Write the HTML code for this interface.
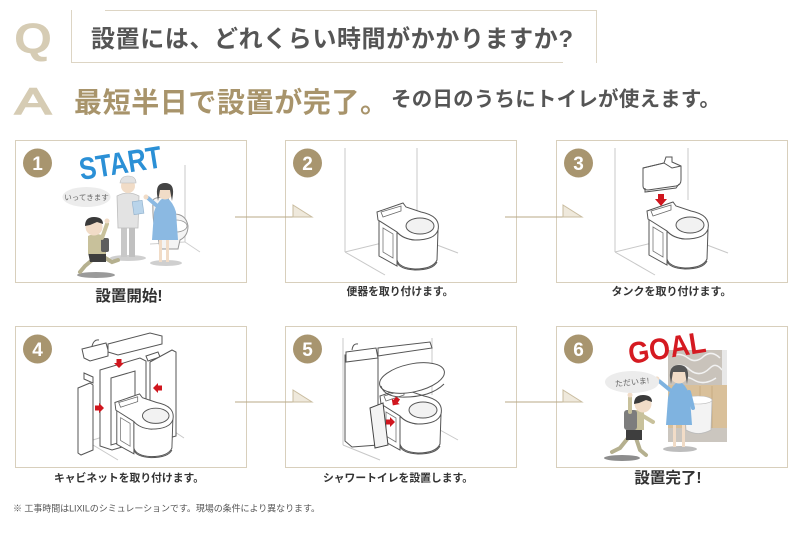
<!DOCTYPE html>
<html><head><meta charset="utf-8"><style>
html,body{margin:0;padding:0;background:#fff;}
body{width:798px;height:538px;overflow:hidden;}
svg{display:block;}
.jp{font-family:"Liberation Sans","Noto Sans CJK JP",sans-serif;}
</style></head><body>
<svg width="798" height="538" viewBox="0 0 798 538" xmlns="http://www.w3.org/2000/svg">
<defs>
  <g id="toilet">
    <path d="M4 18 L4 54 L22 64 L22 30 Z" fill="#fff" stroke="#555" stroke-width="1"/>
    <path d="M8 26 L8 50 L18 56 L18 32 Z" fill="none" stroke="#777" stroke-width="0.8"/>
    <path d="M22 30 L22 58 Q24 66 40 67 Q58 67 62 58 L63 28 Q55 38 40 38 Q28 37 22 30 Z" fill="#fff" stroke="#555" stroke-width="1"/>
    <path d="M22 60 Q24 67 40 68 Q58 68 62 60" fill="none" stroke="#555" stroke-width="1"/>
    <path d="M2 10 L28 1 L31 5 L46 10 Q66 14 63 28 Q60 38 40 38 Q28 37 22 30 L3 18 Z" fill="#fff" stroke="#555" stroke-width="1"/>
    <path d="M6 10 L26 4 L26 9 L8 15 Z" fill="none" stroke="#666" stroke-width="0.8"/>
    <ellipse cx="45" cy="24" rx="14" ry="8" fill="#f2f2f2" stroke="#555" stroke-width="1"/>
  </g>
  <g id="arrowR">
    <path d="M0 -2.5 L4 -2.5 L4 -5 L9 0 L4 5 L4 2.5 L0 2.5 Z" fill="#d0161e"/>
  </g>
</defs>

<!-- Header -->
<text x="14" y="53" font-family="Liberation Sans, sans-serif" font-weight="bold" font-size="43" fill="#d6ccb4" textLength="38" lengthAdjust="spacingAndGlyphs">Q</text>
<line x1="105" y1="10.5" x2="597" y2="10.5" stroke="#ddd5c4" stroke-width="1"/>
<line x1="596.5" y1="10" x2="596.5" y2="63" stroke="#ddd5c4" stroke-width="1"/>
<line x1="71" y1="62.5" x2="563" y2="62.5" stroke="#ddd5c4" stroke-width="1"/>
<line x1="71.5" y1="10" x2="71.5" y2="63" stroke="#ddd5c4" stroke-width="1"/>
<text x="91" y="47" class="jp" font-weight="bold" font-size="24" fill="#555" textLength="482" lengthAdjust="spacing">設置には、どれくらい時間がかかりますか?</text>

<text x="15" y="114" font-family="Liberation Sans, sans-serif" font-size="37" fill="#d6ccb4" stroke="#d6ccb4" stroke-width="1.6" textLength="36" lengthAdjust="spacingAndGlyphs">A</text>
<text x="74" y="112" class="jp" font-weight="bold" font-size="28" fill="#a8946b" textLength="314" lengthAdjust="spacing">最短半日で設置が完了。</text>
<text x="391" y="106" class="jp" font-weight="bold" font-size="20.5" fill="#555" textLength="329" lengthAdjust="spacing">その日のうちにトイレが使えます。</text>

<!-- Panels -->
<g fill="none" stroke="#d8cfbc" stroke-width="1">
  <rect x="15.5" y="140.5" width="231" height="142"/>
  <rect x="285.5" y="140.5" width="231" height="142"/>
  <rect x="556.5" y="140.5" width="231" height="142"/>
  <rect x="15.5" y="326.5" width="231" height="141"/>
  <rect x="285.5" y="326.5" width="231" height="141"/>
  <rect x="556.5" y="326.5" width="231" height="141"/>
</g>

<!-- Connectors -->
<g stroke="#b8a987" stroke-width="1">
  <line x1="235" y1="217" x2="293" y2="217"/>
  <line x1="505" y1="217" x2="563" y2="217"/>
  <line x1="235" y1="402" x2="293" y2="402"/>
  <line x1="505" y1="402" x2="563" y2="402"/>
</g>
<g fill="#efe9dc" stroke="#c9bc9f" stroke-width="1">
  <path d="M293 205 L293 217 L312 217 Z"/>
  <path d="M563 205 L563 217 L582 217 Z"/>
  <path d="M293 390 L293 402 L312 402 Z"/>
  <path d="M563 390 L563 402 L582 402 Z"/>
</g>

<!-- Number circles -->
<g fill="#a8956f">
  <circle cx="37.5" cy="163" r="14.5"/>
  <circle cx="307.5" cy="163" r="14.5"/>
  <circle cx="578.5" cy="163" r="14.5"/>
  <circle cx="37.5" cy="349" r="14.5"/>
  <circle cx="307.5" cy="349" r="14.5"/>
  <circle cx="578.5" cy="349" r="14.5"/>
</g>
<g font-family="Liberation Sans, sans-serif" font-weight="bold" font-size="19" fill="#fff" text-anchor="middle">
  <text x="37.5" y="170">1</text>
  <text x="307.5" y="170">2</text>
  <text x="578.5" y="170">3</text>
  <text x="37.5" y="356">4</text>
  <text x="307.5" y="356">5</text>
  <text x="578.5" y="356">6</text>
</g>

<!-- Panel 1 illustration -->
<g>
  <line x1="185" y1="165" x2="185" y2="242" stroke="#c8c8c8" stroke-width="1"/>
  <line x1="150" y1="244" x2="185" y2="242" stroke="#cfcfcf" stroke-width="1"/>
  <line x1="185" y1="242" x2="200" y2="252" stroke="#cfcfcf" stroke-width="1"/>
  <path d="M153 200 Q156 196 168 198 L174 214 Q186 214 188 226 Q188 236 180 240 L178 249 L160 249 L158 236 Q152 226 153 200 Z" fill="#f4f4f4" stroke="#999" stroke-width="1"/>
  <ellipse cx="176" cy="226" rx="11" ry="6" fill="#fff" stroke="#999" stroke-width="0.8"/>
  <ellipse cx="128" cy="258" rx="18" ry="3" fill="#cfcfcf"/>
  <ellipse cx="166" cy="263" rx="16" ry="3" fill="#cfcfcf"/>
  <ellipse cx="96" cy="275" rx="19" ry="3" fill="#9a9a9a"/>
  <rect x="121" y="224" width="6" height="33" fill="#c8c8c8"/>
  <rect x="129" y="224" width="6" height="33" fill="#c0c0c0"/>
  <path d="M117 196 Q128 190 139 196 L138 228 L118 228 Z" fill="#e3e3e3" stroke="#bdbdbd" stroke-width="0.8"/>
  <circle cx="128" cy="186" r="7" fill="#f1dcc7"/>
  <path d="M120 183 Q121 176 128 176 Q136 176 136 183 Z" fill="#e2e2e2" stroke="#bbb" stroke-width="0.6"/>
  <rect x="133" y="201" width="10" height="13" fill="#b9d4ea" stroke="#8fb0cc" stroke-width="0.6" transform="rotate(-8 138 207)"/>
  <path d="M163 198 Q157 202 154 212 L152 240 L178 240 L176 212 Q173 202 167 198 Z" fill="#8bb9e2"/>
  <path d="M156 205 L148 198" stroke="#8bb9e2" stroke-width="4" stroke-linecap="round"/>
  <circle cx="146" cy="197" r="2.5" fill="#f1dcc7"/>
  <rect x="159" y="240" width="3" height="22" fill="#f1dcc7"/>
  <rect x="166" y="240" width="3" height="22" fill="#f1dcc7"/>
  <circle cx="165" cy="192" r="7.5" fill="#f1dcc7"/>
  <path d="M157 194 Q156 183 165 183 Q174 183 173 194 L172 201 L170 190 L160 190 L158 201 Z" fill="#444"/>
  <path d="M97 256 L85 266 L80 272" stroke="#b5b08f" stroke-width="4" fill="none" stroke-linecap="round"/>
  <path d="M102 256 L112 262 L118 260" stroke="#b5b08f" stroke-width="4" fill="none" stroke-linecap="round"/>
  <path d="M88 252 L106 252 L106 262 L90 262 Z" fill="#3e3e3e"/>
  <path d="M88 236 Q96 232 104 236 L106 254 L88 254 Z" fill="#c8c19b"/>
  <rect x="101" y="238" width="8" height="14" rx="2" fill="#5e5e5e"/>
  <path d="M102 238 L107 224" stroke="#c8c19b" stroke-width="4" stroke-linecap="round"/>
  <circle cx="107" cy="221" r="2.5" fill="#f1dcc7"/>
  <circle cx="94" cy="227" r="8.5" fill="#f1dcc7"/>
  <path d="M85 226 Q85 217 94 217 Q103 217 103 224 L97 222 L90 225 Z" fill="#3a3a3a"/>
  <ellipse cx="86.5" cy="197" rx="24" ry="10" fill="#ececec"/>
  <text x="86.5" y="200" text-anchor="middle" class="jp" font-size="7.5" fill="#666">いってきます</text>
  <text x="81" y="180" font-family="Liberation Sans, sans-serif" font-weight="bold" font-size="31" fill="#2b90d6" transform="rotate(-9 81 180)" textLength="83" lengthAdjust="spacingAndGlyphs">START</text>
</g>

<!-- Panel 2 illustration -->
<g stroke="#c8c8c8" stroke-width="1" fill="none">
  <line x1="345" y1="148" x2="345" y2="252"/>
  <line x1="417" y1="148" x2="417" y2="213"/>
  <line x1="345" y1="252" x2="382" y2="243"/>
  <line x1="345" y1="252" x2="385" y2="275"/>
  <line x1="437" y1="245" x2="458" y2="253"/>
</g>
<use href="#toilet" x="375" y="202"/>

<!-- Panel 3 illustration -->
<g stroke="#c8c8c8" stroke-width="1" fill="none">
  <line x1="615" y1="148" x2="615" y2="252"/>
  <line x1="688" y1="148" x2="688" y2="200"/>
  <line x1="615" y1="252" x2="652" y2="243"/>
  <line x1="615" y1="252" x2="655" y2="275"/>
  <line x1="707" y1="245" x2="728" y2="253"/>
</g>
<use href="#toilet" x="645" y="201"/>
<g stroke="#555" stroke-width="1" fill="#fff">
  <path d="M643 168 L643 186 Q643 190 648 190 L676 186 Q681 185 681 180 L681 166 L672 162 L672 157 L666 157 L664 163 Z"/>
  <path d="M643 168 L664 163 L672 168 L681 166" fill="none"/>
  <path d="M645 188 L645 192 L676 188 L679 184" fill="none"/>
</g>
<path d="M658 194 L664 194 L664 199 L667 199 L661 206 L655 199 L658 199 Z" fill="#d0161e"/>

<!-- Panel 4 illustration -->
<g stroke="#c8c8c8" stroke-width="1" fill="none">
  <line x1="93" y1="440" x2="118" y2="432"/>
  <line x1="93" y1="445" x2="118" y2="460"/>
  <line x1="172" y1="430" x2="184" y2="438"/>
</g>
<g stroke="#555" stroke-width="1" fill="#fff">
  <path d="M82 349 L106 343 L108 350 L108 356 L90 361 L84 358 Z"/>
  <path d="M92 346 Q94 339 99 340" fill="none"/>
  <path d="M108 344 L150 333 L162 336 L162 344 L118 355 L108 352 Z"/>
  <path d="M84 373 L93 377 L93 383 L84 379 Z"/>
  <path d="M78 388 L90 383 L93 385 L93 450 L81 455 L78 453 Z"/>
  <path d="M100 370 L140 358 L146 361 L146 440 L112 450 L100 446 Z"/>
  <path d="M111 378 L135 371 L135 438 L111 445 Z"/>
  <path d="M146 356 L158 352 L160 357 L148 361 Z"/>
  <path d="M150 362 L172 350 L176 352 L176 436 L155 442 L150 440 Z"/>
</g>
<use href="#toilet" x="113" y="393" transform="translate(113 393) scale(0.95) translate(-113 -393)"/>
<use href="#arrowR" transform="translate(119 359) rotate(90)"/>
<use href="#arrowR" transform="translate(95 408)"/>
<use href="#arrowR" transform="translate(162 388) rotate(180)"/>

<!-- Panel 5 illustration -->
<g stroke="#c8c8c8" stroke-width="1" fill="none">
  <line x1="343" y1="338" x2="343" y2="445"/>
  <line x1="432" y1="338" x2="432" y2="395"/>
  <line x1="343" y1="445" x2="380" y2="460"/>
  <line x1="440" y1="430" x2="458" y2="440"/>
</g>
<g stroke="#555" stroke-width="1" fill="#fff">
  <path d="M378 348 L430 342 L432 348 L378 356 Z"/>
  <path d="M345 355 L375 352 L378 358 L378 445 L352 447 L345 441 Z"/>
  <path d="M346 352 L376 348 L378 358 L346 362 Z"/>
  <path d="M352 350 Q353 343 358 344" fill="none"/>
</g>
<use href="#toilet" x="378" y="386"/>
<g stroke="#555" stroke-width="1" fill="#fff">
  <ellipse cx="412" cy="378" rx="33" ry="14" transform="rotate(-12 412 378)"/>
  <path d="M381 386 Q384 396 400 397 Q430 398 444 384" fill="none"/>
  <path d="M370 408 L383 403 L388 445 L375 448 Z" fill="#f4f4f4" stroke="#444"/>
</g>
<use href="#arrowR" transform="translate(398 398) rotate(125)"/>
<use href="#arrowR" transform="translate(386 422)"/>

<!-- Panel 6 illustration -->
<g>
  <rect x="668" y="350" width="59" height="92" fill="#d9c09a"/>
  <rect x="668" y="350" width="59" height="35" fill="#c9c3bb"/>
  <path d="M672 356 Q680 352 688 358 Q696 364 704 356 Q712 350 720 358 M672 368 Q682 362 690 370 Q700 378 710 368 Q716 362 722 370 M674 380 Q684 374 694 380 Q704 386 716 378" stroke="#f2f2f2" stroke-width="1.5" fill="none"/>
  <rect x="722" y="350" width="5" height="35" fill="#e8e8e8"/>
  <line x1="700" y1="386" x2="700" y2="430" stroke="#c5a87d" stroke-width="0.8"/>
  <line x1="712" y1="386" x2="712" y2="430" stroke="#c5a87d" stroke-width="0.8"/>
  <rect x="668" y="428" width="59" height="14" fill="#cbc6bf"/>
  <path d="M684 400 Q697 394 712 400 L711 430 Q698 437 686 430 Z" fill="#f3f3f3" stroke="#bbb" stroke-width="0.8"/>
  <ellipse cx="698" cy="400" rx="14" ry="4" fill="#fff" stroke="#bbb" stroke-width="0.6"/>
  <ellipse cx="680" cy="449" rx="17" ry="3" fill="#bdbdbd"/>
  <ellipse cx="622" cy="458" rx="18" ry="3" fill="#8d8d8d"/>
  <rect x="673" y="424" width="3" height="23" fill="#f1dcc7"/>
  <rect x="682" y="424" width="3" height="23" fill="#f1dcc7"/>
  <path d="M676 383 Q670 388 668 398 L666 425 L692 425 L690 398 Q688 388 682 383 Z" fill="#7fb3e0"/>
  <path d="M670 390 L659 381" stroke="#7fb3e0" stroke-width="4" stroke-linecap="round"/>
  <circle cx="657" cy="379" r="2.5" fill="#f1dcc7"/>
  <path d="M689 392 L693 408" stroke="#7fb3e0" stroke-width="4" stroke-linecap="round"/>
  <circle cx="679" cy="375" r="8.5" fill="#f1dcc7"/>
  <path d="M670 377 Q669 365 679 365 Q689 365 688 377 L687 384 L685 372 L673 372 L671 384 Z" fill="#555"/>
  <path d="M628 438 L620 448 L612 452" stroke="#b5b08f" stroke-width="4" fill="none" stroke-linecap="round"/>
  <path d="M636 438 L640 450 L646 455" stroke="#b5b08f" stroke-width="4" fill="none" stroke-linecap="round"/>
  <path d="M626 428 L642 428 L642 440 L626 440 Z" fill="#3e3e3e"/>
  <path d="M628 412 Q636 408 644 412 L644 430 L626 430 Z" fill="#c8c19b"/>
  <path d="M643 416 L653 422" stroke="#c8c19b" stroke-width="4" stroke-linecap="round"/>
  <rect x="624" y="410" width="13" height="20" rx="3" fill="#7d7d7d"/>
  <path d="M630 412 L630 398" stroke="#c8c19b" stroke-width="4" stroke-linecap="round"/>
  <circle cx="630" cy="395" r="2.5" fill="#f1dcc7"/>
  <circle cx="643" cy="404" r="8.5" fill="#f1dcc7"/>
  <path d="M634 404 Q634 395 643 395 Q652 395 652 402 L646 400 L639 403 Z" fill="#3a3a3a"/>
  <ellipse cx="632" cy="382" rx="27" ry="11" fill="#ececec"/>
  <text x="632" y="385" text-anchor="middle" class="jp" font-size="8" fill="#666" transform="rotate(-6 632 382)">ただいま!</text>
  <text x="630" y="364" font-family="Liberation Sans, sans-serif" font-weight="bold" font-size="30" fill="#d51a21" transform="rotate(-9 630 364)" textLength="78" lengthAdjust="spacingAndGlyphs">GOAL</text>
</g>

<!-- Labels -->
<g class="jp" font-weight="bold" fill="#333" text-anchor="middle">
  <text x="129" y="301" font-size="15.5">設置開始!</text>
  <text x="400" y="295" font-size="10.8">便器を取り付けます。</text>
  <text x="671.5" y="295" font-size="11">タンクを取り付けます。</text>
  <text x="129" y="481.5" font-size="10.8">キャビネットを取り付けます。</text>
  <text x="398" y="481.5" font-size="10.8">シャワートイレを設置します。</text>
  <text x="668" y="483" font-size="15.5">設置完了!</text>
</g>

<!-- Footnote -->
<text x="13" y="511.5" class="jp" font-size="9" fill="#555" textLength="307" lengthAdjust="spacing">※ 工事時間はLIXILのシミュレーションです。現場の条件により異なります。</text>
</svg>
</body></html>
